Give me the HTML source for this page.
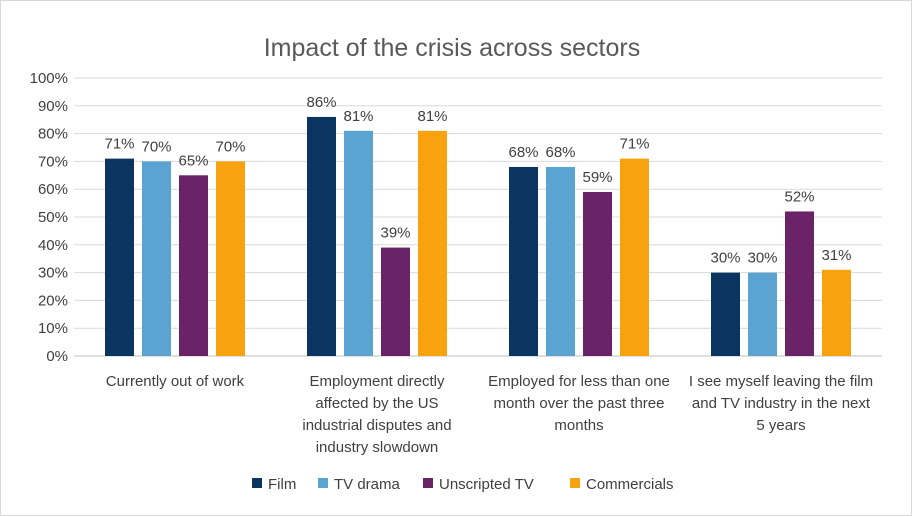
<!DOCTYPE html>
<html><head><meta charset="utf-8"><style>
body{margin:0;background:#fff;}
svg{display:block;font-family:"Liberation Sans",Arial,sans-serif;}
</style></head><body>
<svg id="chart" width="913" height="517">
<rect x="0.5" y="0.5" width="911" height="515" fill="#fff" stroke="#d9d9d9"/>
<text x="452" y="56" text-anchor="middle" font-size="25" fill="#595959">Impact of the crisis across sectors</text>
<g id="grid"></g><g id="bars"></g><g id="labels"></g><g id="legend"></g>
</svg>
<script>
const categories=[["Currently out of work"],["Employment directly","affected by the US","industrial disputes and","industry slowdown"],["Employed for less than one","month over the past three","months"],["I see myself leaving the film","and TV industry in the next","5 years"]];
const seriesNames=["Film","TV drama","Unscripted TV","Commercials"];
const film=[71,86,68,30];
const tvDrama=[70,81,68,30];
const unscripted=[65,39,59,52];
const commercials=[70,81,71,31];
const ticks=[0,10,20,30,40,50,60,70,80,90,100];
const series=[film,tvDrama,unscripted,commercials];
const colors=["#0b3561","#5ba3d0","#6b2368","#f7a20e"];
const NS="http://www.w3.org/2000/svg";
const x0=74,x1=882,yBase=356,yTop=78;
const y=v=>yBase-(yBase-yTop)*v/100;
const gw=(x1-x0)/categories.length;
const bw=29,gap=8;
function mk(t,a,p,txt){const e=document.createElementNS(NS,t);for(const k in a)e.setAttribute(k,a[k]);if(txt!=null)e.textContent=txt;p.appendChild(e);return e;}
const G=document.getElementById('grid'),B=document.getElementById('bars'),L=document.getElementById('labels'),LG=document.getElementById('legend');
ticks.forEach(t=>{
 const l=mk('line',{x1:x0,x2:x1,y1:y(t),y2:y(t),stroke:t===0?'#bfbfbf':'#d9d9d9','stroke-width':1},G);
 
 
 const tx=mk('text',{x:68,y:y(t)+5,'text-anchor':'end','font-size':15,fill:'#404040'},G,t+'%');
 
 
});
categories.forEach((c,i)=>{
 const cx=x0+gw*(i+0.5);
 const total=4*bw+3*gap;
 series.forEach((s,j)=>{
  const bx=cx-total/2+j*(bw+gap);
  const r=mk('rect',{x:bx,y:y(s[i]),width:bw,height:yBase-y(s[i]),fill:colors[j]},B);
  
  
  const t=mk('text',{x:bx+bw/2,y:y(s[i])-10,'text-anchor':'middle','font-size':15,fill:'#404040'},L,s[i]+'%');
  
  
 });
 c.forEach((line,k)=>{
  const t=mk('text',{x:cx,y:386+k*22,'text-anchor':'middle','font-size':15,fill:'#404040'},L,line);
  
  
 });
});
const lx=[252,318,423,570];
seriesNames.forEach((n,j)=>{
 const r=mk('rect',{x:lx[j],y:478,width:10,height:10,fill:colors[j]},LG);
 
 
 const t=mk('text',{x:lx[j]+16,y:489,'font-size':15,fill:'#404040'},LG,n);
 
 
});
</script>
</body></html>
